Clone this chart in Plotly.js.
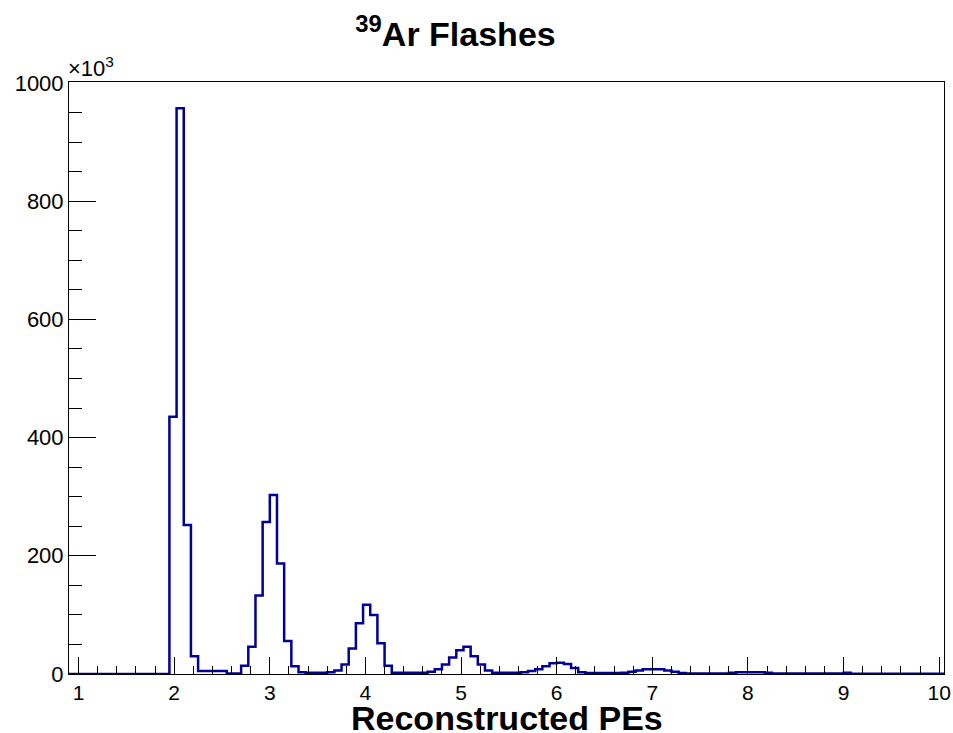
<!DOCTYPE html>
<html>
<head>
<meta charset="utf-8">
<script src="https://cdn.plot.ly/plotly-3.0.1.min.js"></script>
<style>html,body{margin:0;padding:0;background:#fff;}#chart{width:953px;height:733px;}</style>
</head>
<body>
<div id="chart"></div>
<script>
// Histogram binning (Reconstructed PEs)
const binLow = 0.9;
const binWidth = 0.075;
// Counts per bin, in units of 10^3
const counts = [
  0,0,0,0,0,0,0,0,0,0,0,0,0,0,          // 0.900 - 1.950
  435,957,252,30,5,5,5,5,1,1,           // 1.950 - 2.700
  14,46,133,257,303,187,56,13,          // 2.700 - 3.300
  3,2,2,2,3,6,16,43,86,117,100,52,14,   // 3.300 - 4.275
  2,2,2,2,2,4,8,16,28,40,46,30,16,6,    // 4.275 - 5.325
  2,2,2,2,3,5,8,13,18,19,17,10,3,       // 5.325 - 6.300
  1.5,1.5,1.5,1.5,1.5,2,4,6,8,8,8,6,4,1.5, // 6.300 - 7.350
  1,1,1,1,1,1,2,3,3,3,3,2,              // 7.350 - 8.250
  0.8,0.8,0.8,0.8,0.8,0.8,0.8,0.8,0.8,1,2, // 8.250 - 9.075
  0.5,0.5,0.5,0.5,0.5,0.5,0.5,0.5,0.5,0.5,0.5,0.5,0.5 // 9.075 - 10.050
];
const xTickVals = [1,2,3,4,5,6,7,8,9,10];
const yTickVals = [0,200,400,600,800,1000];
const chartTitle = "<sup>39</sup>Ar Flashes";
const xTitle = "Reconstructed PEs";
const yScaleLabel = "\u00d710<sup>3</sup>";

// step outline from bin edges
const xs = [binLow];
const ys = [0];
for (let i = 0; i < counts.length; i++) {
  const lo = binLow + i * binWidth;
  xs.push(lo); ys.push(counts[i]);
}
const binHigh = binLow + counts.length * binWidth;
xs.push(binHigh); ys.push(counts[counts.length - 1]);
xs.push(binHigh); ys.push(0);

const font = "Liberation Sans, Arial, Helvetica, sans-serif";
const trace = {
  x: xs, y: ys, type: "scatter", mode: "lines",
  line: {shape: "hv", color: "#000099", width: 2.5},
  hoverinfo: "skip", showlegend: false
};
const layout = {
  width: 953, height: 733,
  margin: {l: 69, r: 9, t: 82, b: 59, pad: 0},
  paper_bgcolor: "#fff", plot_bgcolor: "#fff",
  font: {family: font, color: "#000", size: 21},
  title: {text: "<b>" + chartTitle + "</b>", x: 0.478, xanchor: "center", y: 0.953, yanchor: "middle",
          font: {family: font, size: 34, color: "#000"}},
  xaxis: {
    range: [binLow, binHigh], tickvals: xTickVals, ticktext: xTickVals.map(String),
    ticks: "inside", ticklen: 17, tickwidth: 1, tickcolor: "#000",
    minor: {dtick: 0.2, tick0: 1, ticks: "inside", ticklen: 8, tickwidth: 1, tickcolor: "#000"},
    showline: true, linecolor: "#000", linewidth: 1, mirror: true,
    showgrid: false, zeroline: false,
    tickfont: {family: font, size: 21}
  },
  yaxis: {
    range: [0, 1001.5], tickvals: yTickVals, ticktext: yTickVals.map(String),
    ticks: "inside", ticklen: 27, tickwidth: 1, tickcolor: "#000",
    minor: {dtick: 50, tick0: 0, ticks: "inside", ticklen: 13, tickwidth: 1, tickcolor: "#000"},
    showline: true, linecolor: "#000", linewidth: 1, mirror: true,
    showgrid: false, zeroline: false,
    tickfont: {family: font, size: 22}
  },
  annotations: [{
    text: yScaleLabel, xref: "paper", yref: "paper", x: 0, y: 1, xanchor: "left", yanchor: "bottom",
    xshift: -3, yshift: -1, showarrow: false, font: {family: font, size: 22, color: "#000"}
  }, {
    text: "<b>" + xTitle + "</b>", xref: "paper", yref: "paper", x: 0.5, y: 0, xanchor: "center", yanchor: "middle",
    yshift: -44, height: 28, valign: "middle", showarrow: false, font: {family: font, size: 34, color: "#000"}
  }]
};
Plotly.newPlot("chart", [trace], layout, {displayModeBar: false, staticPlot: true});
</script>
</body>
</html>
